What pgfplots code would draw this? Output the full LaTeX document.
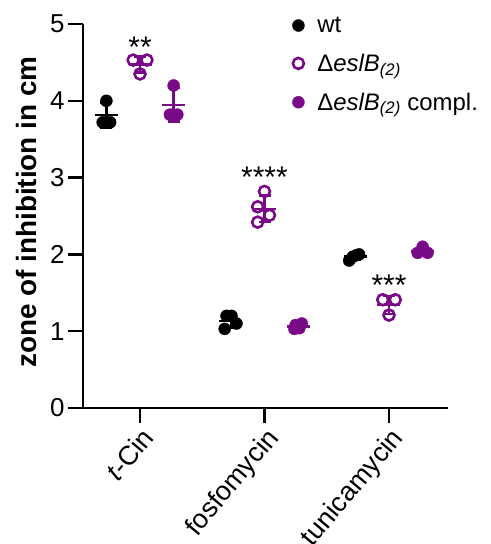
\documentclass[border=0pt]{standalone}
\usepackage{pgfplots}
\pgfplotsset{compat=1.18}
\usepackage{fontspec}
\setmainfont{Liberation Sans}
\definecolor{mypurple}{RGB}{120,10,135}

\begin{document}
\begin{tikzpicture}
\begin{axis}[
    name=ax,
    scale only axis,
    width=365bp, height=384bp,
    xmin=-0.458, xmax=2.474,
    ymin=0, ymax=5,
    axis lines*=left,
    axis line style={line width=2.7bp},
    xtick={0,1,2},
    xticklabels={\textit{t}-Cin, fosfomycin, tunicamycin},
    ytick={0,1,2,3,4,5},
    tick align=outside,
    major tick length=15bp,
    tick style={line width=2.5bp, black},
    /pgf/number format/assume math mode=true,
    y tick label style={font=\fontsize{26}{30}\selectfont},
    x tick label style={font=\fontsize{27}{31}\selectfont, rotate=50, anchor=north east, inner sep=2bp},
    ylabel={zone of inhibition in cm},
    ylabel style={font=\bfseries\fontsize{28}{32}\selectfont, at={(axis description cs:-0.155,0.51)}, anchor=center},
    clip=false,
    legend style={at={(0.565,1.029)}, anchor=north west, draw=none, fill=none,
        font=\fontsize{24}{28}\selectfont, row sep=16bp,
        nodes={inner sep=2bp},
        /tikz/every odd column/.append style={column sep=11bp}},
    legend cell align=left,
]
% individual replicates
\addplot[only marks, mark=*, black, mark size=6bp] coordinates {
    (-0.30,3.72) (-0.24,3.72) (-0.27,4.00)
    (0.695,1.20) (0.735,1.20) (0.775,1.10) (0.68,1.03)
    (1.68,1.92) (1.71,1.97) (1.76,2.00) (1.74,1.99)
};
\addplot[only marks, mark=o, mypurple, mark size=5.5bp, mark options={line width=2.6bp}] coordinates {
    (-0.055,4.53) (0.055,4.53) (0,4.35)
    (1.00,2.82) (0.945,2.62) (1.04,2.51) (0.945,2.42)
    (1.95,1.41) (2.05,1.41) (2.00,1.21)
};
\addplot[only marks, mark=*, mypurple, mark size=6bp] coordinates {
    (0.27,4.20) (0.24,3.82) (0.30,3.82)
    (1.25,1.08) (1.30,1.10) (1.28,1.04) (1.24,1.03)
    (2.27,2.10) (2.23,2.02) (2.31,2.02)
};
\legend{wt, Δ\textit{eslB}\textsubscript{\textit{(2)}}, Δ\textit{eslB}\textsubscript{\textit{(2)}} compl.}

% mean and SD
\addplot[only marks, forget plot, black, mark=-, mark size=11.5bp, mark options={line width=2.5bp},
    error bars/.cd, y dir=both, y explicit,
    error bar style={line width=2.5bp},
    error mark options={rotate=90, mark size=6bp, line width=2.5bp}] coordinates {
    (-0.27,3.813) +- (0,0.162)
    (0.73,1.133) +- (0,0.083)
    (1.73,1.970) +- (0,0.036)
};
\addplot[only marks, forget plot, mypurple, mark=-, mark size=11.5bp, mark options={line width=2.5bp},
    error bars/.cd, y dir=both, y explicit,
    error bar style={line width=2.5bp},
    error mark options={rotate=90, mark size=6bp, line width=2.5bp}] coordinates {
    (0,4.470) +- (0,0.104)
    (1,2.593) +- (0,0.172)
    (2,1.343) +- (0,0.116)
    (0.27,3.947) +- (0,0.219)
    (1.27,1.063) +- (0,0.033)
    (2.27,2.047) +- (0,0.046)
};

% significance
\node[anchor=base, font=\fontsize{30}{34}\selectfont] at (axis cs:0,4.56) {**};
\node[anchor=base, font=\fontsize{30}{34}\selectfont] at (axis cs:1,2.87) {****};
\node[anchor=base, font=\fontsize{30}{34}\selectfont] at (axis cs:2,1.47) {***};
\end{axis}
\pgfresetboundingbox
\path[use as bounding box] ([shift={(-83bp,-136bp)}]ax.south west) rectangle ([shift={(408bp,408bp)}]ax.south west);
\end{tikzpicture}
\end{document}
